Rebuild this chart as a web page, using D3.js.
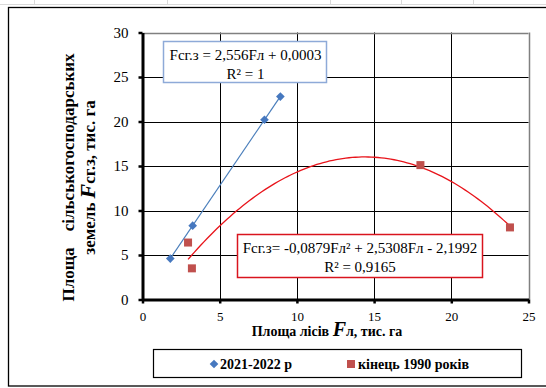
<!DOCTYPE html>
<html><head><meta charset="utf-8">
<script src="https://cdn.jsdelivr.net/npm/d3@7"></script>
<style>
body{margin:0;background:#fff;}
svg{display:block;}
</style></head>
<body>
<script>
// ---- data ----
const seriesNames = ["2021-2022 р", "кінець 1990 років"];
const blueX = [1.8, 3.25, 7.9, 8.93];
const blueY = [4.6, 8.3, 20.2, 22.8];
const redX = [2.95, 3.2, 18.0, 23.8];
const redY = [6.4, 3.5, 15.1, 8.1];
const linCoef = [0.0003, 2.556];            // c0 + c1*x
const quadCoef = [-2.1992, 2.5308, -0.0879]; // c0 + c1*x + c2*x^2
const xTicks = [0, 5, 10, 15, 20, 25];
const yTicks = [0, 5, 10, 15, 20, 25, 30];
const eqBlue = ["Fсг.з = 2,556Fл + 0,0003", "R² = 1"];
const eqRed = ["Fсг.з= -0,0879Fл² + 2,5308Fл - 2,1992", "R² = 0,9165"];

const W = 546, H = 388;
const FONT = "'Liberation Serif','Times New Roman',serif";
const svg = d3.select("body").append("svg").attr("width", W).attr("height", H)
  .attr("font-family", FONT);

// excel cell strip
svg.append("line").attr("x1",0).attr("x2",W).attr("y1",4.5).attr("y2",4.5).attr("stroke","#d9d9d9");
[34,167,330,401,473].forEach(v=>svg.append("line").attr("x1",v+0.5).attr("x2",v+0.5).attr("y1",0).attr("y2",5).attr("stroke","#d9d9d9"));
// chart border
svg.append("rect").attr("x",8.5).attr("y",7.5).attr("width",W+10).attr("height",378.5)
  .attr("fill","#fff").attr("stroke","#000").attr("stroke-width",1.3);

const x = d3.scaleLinear().domain([0,25]).range([142.5,528.5]);
const y = d3.scaleLinear().domain([0,30]).range([299.5,32.5]);

// gridlines
const g = svg.append("g");
g.selectAll(".vg").data(xTicks.filter(d=>d>0)).join("line")
  .attr("x1",d=>Math.round(x(d))+0.5).attr("x2",d=>Math.round(x(d))+0.5)
  .attr("y1",y(30)).attr("y2",y(0)).attr("stroke",d=>d===25?"#808080":"#000").attr("stroke-width",d=>d===25?1.5:1);
g.selectAll(".hg").data(yTicks.filter(d=>d>0)).join("line")
  .attr("y1",d=>Math.round(y(d))+0.5).attr("y2",d=>Math.round(y(d))+0.5)
  .attr("x1",x(0)).attr("x2",x(25)).attr("stroke",d=>d===30?"#808080":"#000").attr("stroke-width",d=>d===30?1.5:1);

// axes
const yAxis = svg.append("g").attr("transform",`translate(${x(0)},0)`)
  .call(d3.axisLeft(y).tickValues(yTicks).tickSize(4).tickSizeOuter(0).tickPadding(10));
const xAxis = svg.append("g").attr("transform",`translate(0,${y(0)})`)
  .call(d3.axisBottom(x).tickValues(xTicks).tickSize(4).tickSizeOuter(0).tickPadding(8));
[yAxis,xAxis].forEach(a=>{
  a.attr("font-family", FONT);
  a.select(".domain").attr("stroke","#000").attr("stroke-width",3);
  a.selectAll(".tick line").attr("stroke","#000").attr("stroke-width",2.5);
  a.selectAll(".tick text").attr("fill","#000");
});
yAxis.attr("font-size",15);
xAxis.attr("font-size",13);

// trend lines
const linF = v => linCoef[0] + linCoef[1]*v;
const quadF = v => quadCoef[0] + quadCoef[1]*v + quadCoef[2]*v*v;
const line = d3.line().x(d=>x(d[0])).y(d=>y(d[1]));
const bx = d3.extent(blueX), rx = d3.extent(redX);
svg.append("path").attr("d", line([[bx[0],linF(bx[0])],[bx[1],linF(bx[1])]]))
  .attr("fill","none").attr("stroke","#4a7ebb").attr("stroke-width",1.2);
const qs = d3.range(0,101).map(i=>{const v=rx[0]+(rx[1]-rx[0])*i/100; return [v,quadF(v)];});
svg.append("path").attr("d", line(qs)).attr("fill","none").attr("stroke","#e8141b").attr("stroke-width",1.3);

// markers
const diamond = d3.symbol().type(d3.symbolDiamond2).size(48);
svg.selectAll(".bp").data(blueX.map((v,i)=>[v,blueY[i]])).join("path")
  .attr("d",diamond).attr("transform",d=>`translate(${x(d[0])},${y(d[1])})`).attr("fill","#4678bf");
svg.selectAll(".rp").data(redX.map((v,i)=>[v,redY[i]])).join("rect")
  .attr("x",d=>x(d[0])-4).attr("y",d=>y(d[1])-4).attr("width",8).attr("height",8).attr("fill","#c0504d");

// equation boxes
function eqBox(x0,y0,w,h,stroke,lines,cx,b1,b2){
  svg.append("rect").attr("x",x0).attr("y",y0).attr("width",w).attr("height",h)
    .attr("fill","#fff").attr("stroke",stroke).attr("stroke-width",1.5);
  const t = svg.append("text").attr("text-anchor","middle").attr("font-size",15).attr("fill","#000");
  t.append("tspan").attr("x",cx).attr("y",b1).text(lines[0]);
  t.append("tspan").attr("x",cx).attr("y",b2).text(lines[1]);
}
eqBox(163.5,41.5,163,41,"#8eaad8",eqBlue,245.5,60,78.5);
eqBox(237.5,234.5,245,43,"#d9141e",eqRed,360,253,271.5);

// x axis title
const xt = svg.append("text").attr("x",327).attr("y",335.5).attr("text-anchor","middle")
  .attr("font-size",14).attr("font-weight","bold").attr("fill","#000");
xt.append("tspan").text("Площа лісів ");
xt.append("tspan").attr("font-style","italic").attr("font-size",20).text("F");
xt.append("tspan").text("л, тис. га");

// y axis title
const yt = svg.append("g").attr("transform","translate(0,177.5) rotate(-90)");
yt.append("text").attr("x",0).attr("y",74).attr("text-anchor","middle")
  .attr("font-size",17).attr("font-weight","bold").attr("word-spacing",12).attr("fill","#000")
  .text("Площа  сільськогосподарських");
const yt2 = yt.append("text").attr("x",0).attr("y",95).attr("text-anchor","middle")
  .attr("font-size",17).attr("font-weight","bold").attr("fill","#000");
yt2.append("tspan").text("земель ");
yt2.append("tspan").attr("font-style","italic").attr("font-size",22).text("F");
yt2.append("tspan").text("сг.з, тис. га");

// legend
svg.append("rect").attr("x",153.5).attr("y",349.5).attr("width",368).attr("height",28)
  .attr("fill","#fff").attr("stroke","#000").attr("stroke-width",1.2);
svg.append("path").attr("d",diamond).attr("transform","translate(214,364)").attr("fill","#4678bf");
svg.append("rect").attr("x",347).attr("y",360).attr("width",8).attr("height",8).attr("fill","#c0504d");
svg.append("text").attr("x",220).attr("y",368.5).attr("font-size",14).attr("font-weight","bold").text(seriesNames[0]);
svg.append("text").attr("x",358).attr("y",368.5).attr("font-size",14).attr("font-weight","bold").text(seriesNames[1]);
</script>
</body></html>
